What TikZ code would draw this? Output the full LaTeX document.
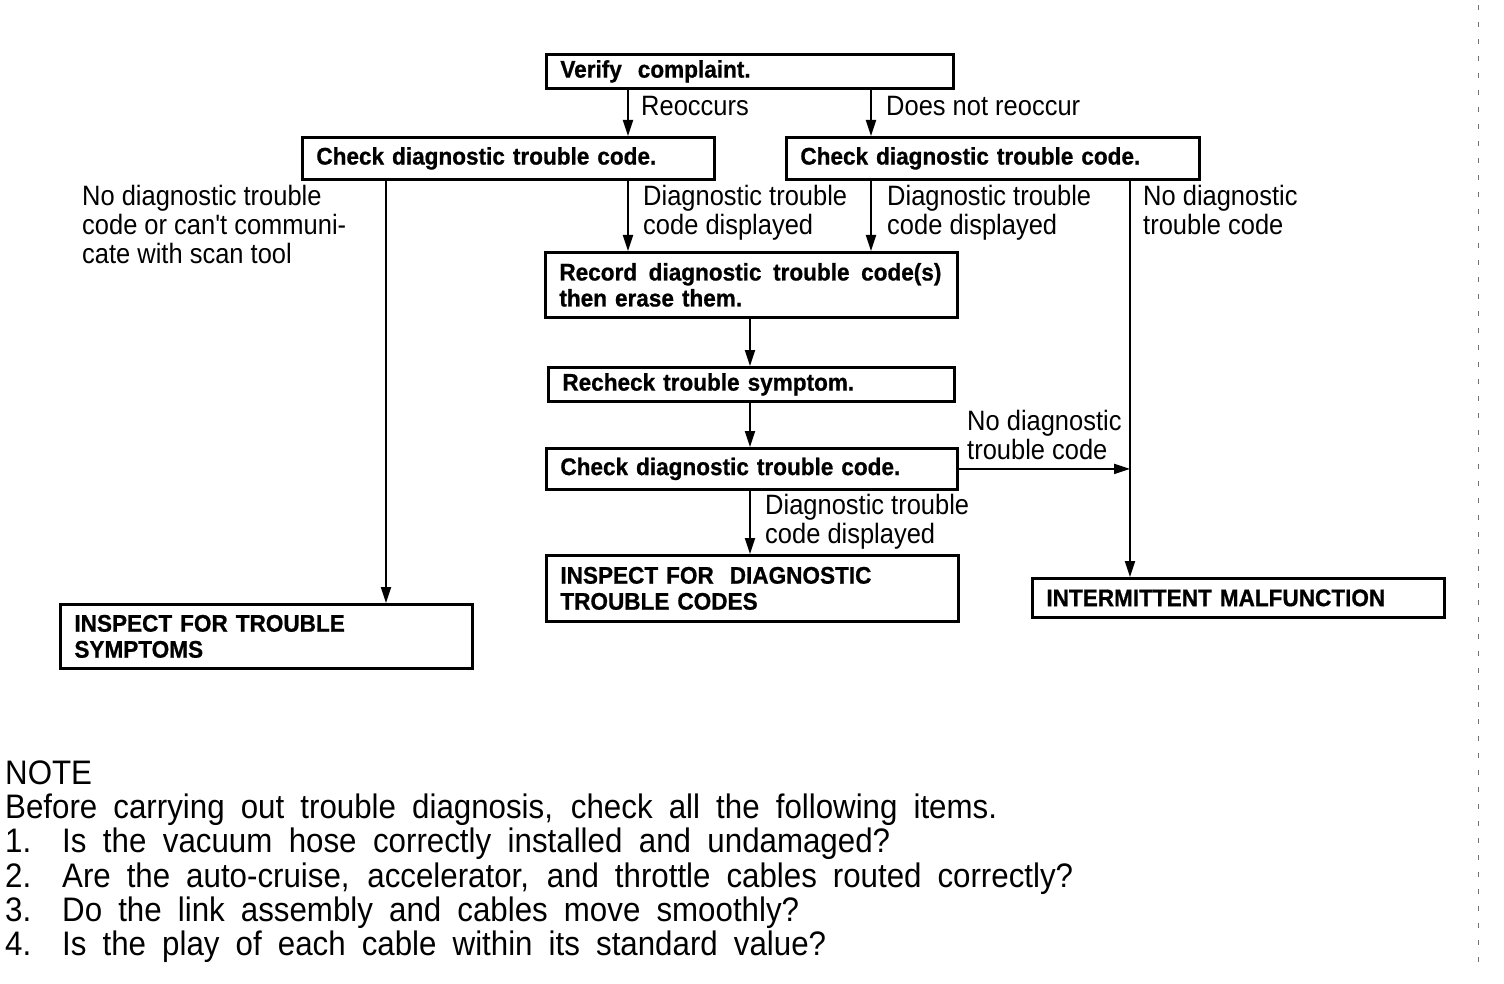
\documentclass[tikz,border=0pt]{standalone}
\usepackage{fontspec}
\setmainfont{Liberation Sans}
\newfontfamily\notefont[FakeStretch=0.92]{Liberation Sans}
\newfontfamily\lblfont[FakeStretch=0.91]{Liberation Sans}
\newfontfamily\boxfont[FakeStretch=0.94,FakeBold=0.8]{Liberation Sans Bold}
\usetikzlibrary{arrows.meta}
\begin{document}
\begin{tikzpicture}[x=1pt,y=-1pt,
  box/.style={draw, line width=2.8pt, anchor=north west, inner xsep=14pt, inner ysep=0pt,
    align=left, font=\boxfont\fontsize{24}{26}\selectfont},
  arr/.style={line width=1.9pt, -{Triangle[length=16pt,width=10pt]}},
  lbl/.style={anchor=base west, inner sep=0pt, font=\lblfont\fontsize{28}{29}\selectfont},
  note/.style={anchor=base west, inner sep=0pt, font=\notefont\fontsize{34}{34}\selectfont}]
\useasboundingbox (0,0) rectangle (1504,984);

% boxes
\node[box, text width=379pt, minimum height=34pt] (v)  at (545,53)  {Verify\ \ complaint.};
\node[box, text width=384pt, minimum height=42pt] (c1) at (301,136) {Check diagnostic trouble code.};
\node[box, text width=385pt, minimum height=42pt] (c2) at (785,136) {Check diagnostic trouble code.};
\node[box, text width=384pt, minimum height=65pt] (r)  at (544,251) {\makebox[382pt][s]{Record\hfill diagnostic\hfill trouble\hfill code(s)}\\then erase them.};
\node[box, text width=378pt, minimum height=34pt] (rc) at (547,366) {Recheck trouble symptom.};
\node[box, text width=383pt, minimum height=41pt] (c3) at (545,447) {Check diagnostic trouble code.};
\node[box, text width=384pt, minimum height=66pt] (id) at (545,554) {INSPECT FOR\ \ DIAGNOSTIC\\TROUBLE CODES};
\node[box, text width=384pt, minimum height=64pt] (it) at (59,603)  {INSPECT FOR TROUBLE\\SYMPTOMS};
\node[box, text width=384pt, minimum height=39pt] (im) at (1031,577) {INTERMITTENT MALFUNCTION};

% x positions of connectors
\coordinate (xa) at (628,0);
\coordinate (xb) at (871,0);
\coordinate (xc) at (386,0);
\coordinate (xd) at (1130,0);
\coordinate (xe) at (750,0);

% connectors
\draw[arr] (v.south -| xa) -- (c1.north -| xa);
\draw[arr] (v.south -| xb) -- (c2.north -| xb);
\draw[arr] (c1.south -| xc) -- (it.north -| xc);
\draw[arr] (c1.south -| xa) -- (r.north -| xa);
\draw[arr] (c2.south -| xb) -- (r.north -| xb);
\draw[arr] (c2.south -| xd) -- (im.north -| xd);
\draw[arr] (r.south -| xe) -- (rc.north -| xe);
\draw[arr] (rc.south -| xe) -- (c3.north -| xe);
\draw[arr] (c3.south -| xe) -- (id.north -| xe);
\draw[arr] (c3.east) -- (c3.east -| xd);

% labels
\node[lbl] (l1) at (641,116) {Reoccurs};
\node[lbl] (l2) at (886,116) {Does not reoccur};
\node[lbl] (l3a) at (82,206) {No diagnostic trouble};
\node[lbl] (l3b) at (82,235) {code or can't communi-};
\node[lbl] (l3c) at (82,264) {cate with scan tool};
\node[lbl] (l4a) at (643,206) {Diagnostic trouble};
\node[lbl] (l4b) at (643,235) {code displayed};
\node[lbl] (l5a) at (887,206) {Diagnostic trouble};
\node[lbl] (l5b) at (887,235) {code displayed};
\node[lbl] (l6a) at (1143,206) {No diagnostic};
\node[lbl] (l6b) at (1143,235) {trouble code};
\node[lbl] (l7a) at (967,430) {No diagnostic};
\node[lbl] (l7b) at (967,459) {trouble code};
\node[lbl] (l8a) at (765,514) {Diagnostic trouble};
\node[lbl] (l8b) at (765,543) {code displayed};

% note
\node[note] (n0) at (5,784) {NOTE};
\node[note] (n1) at (5,818) {\makebox[992pt][s]{Before carrying out trouble diagnosis, check all the following items.}};
\node[note] (n2n) at (5,852) {1.};
\node[note] (n2) at (62,852) {\makebox[828pt][s]{Is the vacuum hose correctly installed and undamaged?}};
\node[note] (n3n) at (5,887) {2.};
\node[note] (n3) at (62,887) {\makebox[1011pt][s]{Are the auto-cruise, accelerator, and throttle cables routed correctly?}};
\node[note] (n4n) at (5,921) {3.};
\node[note] (n4) at (62,921) {\makebox[737pt][s]{Do the link assembly and cables move smoothly?}};
\node[note] (n5n) at (5,955) {4.};
\node[note] (n5) at (62,955) {\makebox[764pt][s]{Is the play of each cable within its standard value?}};

% scan edge
\draw[line width=0.8pt, black!55, dash pattern=on 5pt off 12pt] (1478,5) -- (1478,970);
\end{tikzpicture}
\end{document}
